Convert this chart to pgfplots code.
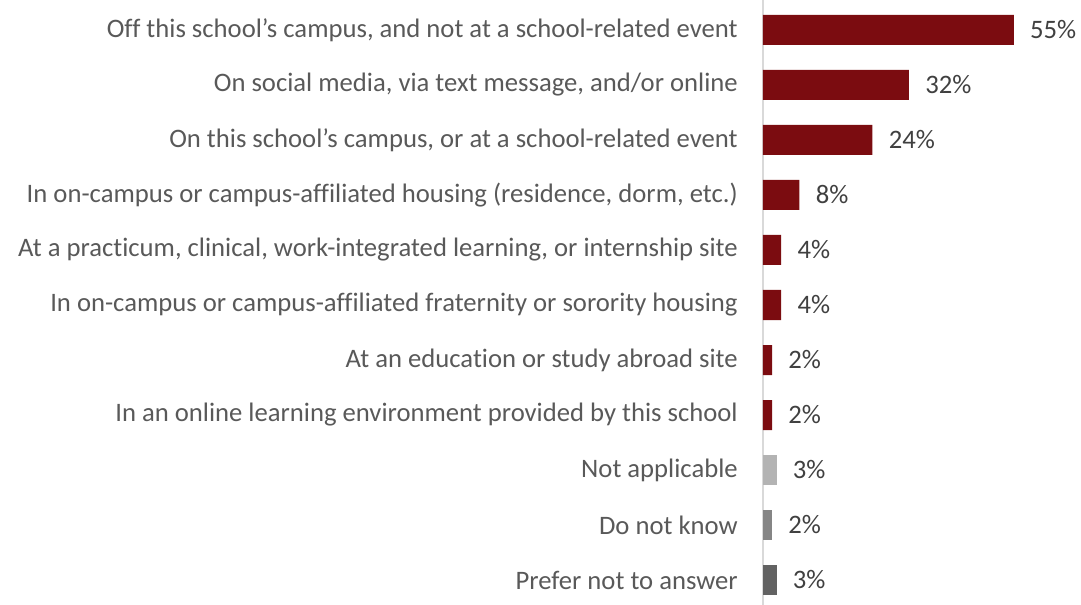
\documentclass[border=0pt]{standalone}
\usepackage{pgfplots}
\pgfplotsset{compat=1.18}
\usepackage{fontspec}
\setmainfont[Ligatures=NoCommon]{Carlito}
\definecolor{barred}{HTML}{7B0C10}
\definecolor{lgray}{HTML}{B3B3B3}
\definecolor{mgray}{HTML}{858585}
\definecolor{dgray}{HTML}{626262}
\definecolor{txt}{HTML}{404040}
\definecolor{ltxt}{HTML}{595959}
\definecolor{axl}{HTML}{D9D9D9}
\begin{document}
\begin{tikzpicture}
\begin{axis}[
  name=ax,
  scale only axis,
  width=238.5pt, height=453.75pt,
  xbar, bar width=22.5pt, bar shift=0pt,
  xmin=0, xmax=69.7,
  ymin=-0.5455, ymax=10.4545,
  y dir=reverse,
  axis x line=none,
  axis y line=left,
  y axis line style={draw=axl, line width=1pt, -},
  ytick={0,...,10},
  yticklabels={
    {Off this school’s campus, and not at a school-related event},
    {On social media, via text message, and/or online},
    {On this school’s campus, or at a school-related event},
    {In on-campus or campus-affiliated housing (residence, dorm, etc.)},
    {At a practicum, clinical, work-integrated learning, or internship site},
    {In on-campus or campus-affiliated fraternity or sorority housing},
    {At an education or study abroad site},
    {In an online learning environment provided by this school},
    {Not applicable},
    {Do not know},
    {Prefer not to answer}},
  major tick length=0pt,
  ytick style={draw=none},
  yticklabel style={anchor=east, inner sep=0pt, xshift=-18.75pt, text=ltxt, font=\fontsize{20}{22}\selectfont},
  nodes near coords={#1\%},
  point meta=explicit symbolic,
  every node near coord/.style={anchor=west, inner sep=0pt, xshift=12pt, text=txt, font=\fontsize{20}{22}\selectfont},
  clip=false,
]
\addplot[fill=barred, draw=none, nodes near coords={\pgfplotspointmeta\%}] coordinates {
  (55,0) [55] (32,1) [32] (24,2) [24] (8,3) [8] (4,4) [4] (4,5) [4] (2,6) [2] (2,7) [2]};
\addplot[fill=lgray, draw=none, nodes near coords={\pgfplotspointmeta\%}] coordinates {(3,8) [3]};
\addplot[fill=mgray, draw=none, nodes near coords={\pgfplotspointmeta\%}] coordinates {(2,9) [2]};
\addplot[fill=dgray, draw=none, nodes near coords={\pgfplotspointmeta\%}] coordinates {(3,10) [3]};
\end{axis}
\pgfresetboundingbox
\path (ax.south west) ++(-572.25pt,0) rectangle (ax.north east);
\end{tikzpicture}
\end{document}
